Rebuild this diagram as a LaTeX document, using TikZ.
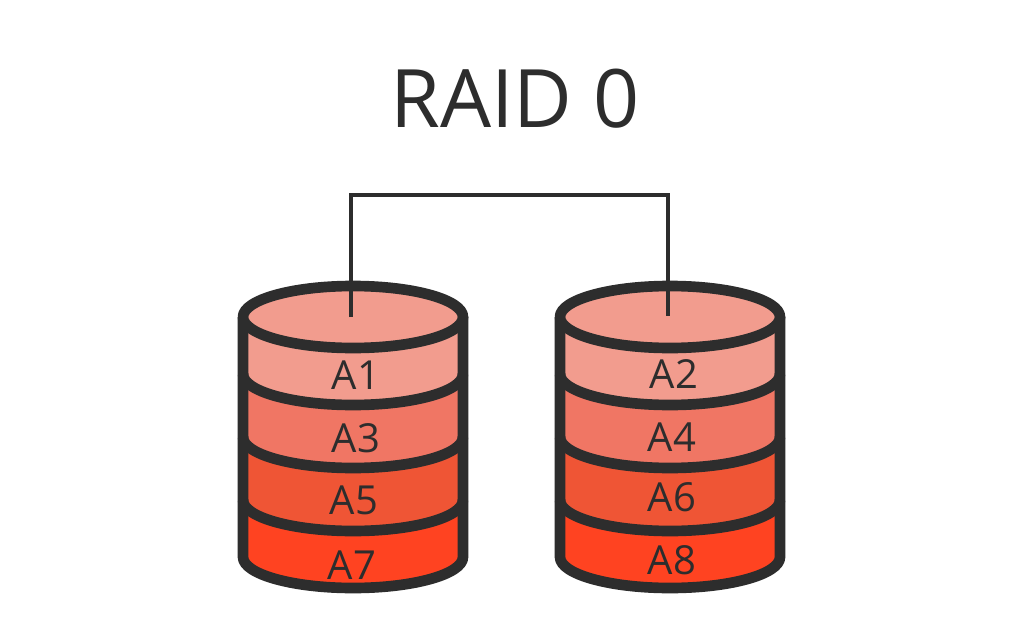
\documentclass[tikz,border=0pt]{standalone}
\usepackage{fontspec}
\setmainfont{Open Sans}
\definecolor{ink}{HTML}{2D2D2D}
\definecolor{ca}{HTML}{F29C8E}
\definecolor{cb}{HTML}{F07664}
\definecolor{cc}{HTML}{EF5535}
\definecolor{cd}{HTML}{FF4321}
\tikzset{
  seg/.style={draw=ink,line width=8pt,line join=round},
  lab/.style={text=ink,font=\fontsize{30}{33}\selectfont,inner sep=0pt},
  wire/.style={draw=ink,line width=2.3pt}
}
\newcommand{\band}[2]{\path[fill=#2] (-110,-317) -- (-110,#1) arc[start angle=180,end angle=360,x radius=110,y radius=31] -- (110,-317) -- cycle;}
\newcommand{\bandline}[1]{\draw[seg] (-110,#1) arc[start angle=180,end angle=360,x radius=110,y radius=31];}
\newcommand{\disk}[1]{%
 \begin{scope}[shift={(#1,0)}]
 \band{-557}{cd}\band{-500}{cc}\band{-437}{cb}\band{-374}{ca}
 \bandline{-500}\bandline{-437}\bandline{-374}
 \draw[seg] (-110,-317) -- (-110,-557) arc[start angle=180,end angle=360,x radius=110,y radius=31] -- (110,-317);
 \draw[seg,fill=ca] (0,-317) ellipse[x radius=110,y radius=31];
 \end{scope}}
\begin{document}
\begin{tikzpicture}[x=0.75pt,y=0.75pt]
\useasboundingbox (0,0) rectangle (1024,-642);
\fill[white] (0,0) rectangle (1024,-642);
\disk{353}
\disk{670}
\node[text=ink,font=\fontsize{60.5}{66}\selectfont,inner sep=0pt] (title) at (515,-99) {RAID 0};
\coordinate (p) at (351,-317);
\coordinate (q) at (668,-316);
\draw[wire] (p) -- (351,-195) -- (668,-195) -- (q);
\node[lab] (a1) at (356,-375) {A1};
\node[lab] (a3) at (356,-438) {A3};
\node[lab] (a5) at (354,-500) {A5};
\node[lab] (a7) at (352,-565) {A7};
\node[lab] (a2) at (674,-374) {A2};
\node[lab] (a4) at (672,-437) {A4};
\node[lab] (a6) at (672,-497) {A6};
\node[lab] (a8) at (672,-560) {A8};
\end{tikzpicture}
\end{document}
